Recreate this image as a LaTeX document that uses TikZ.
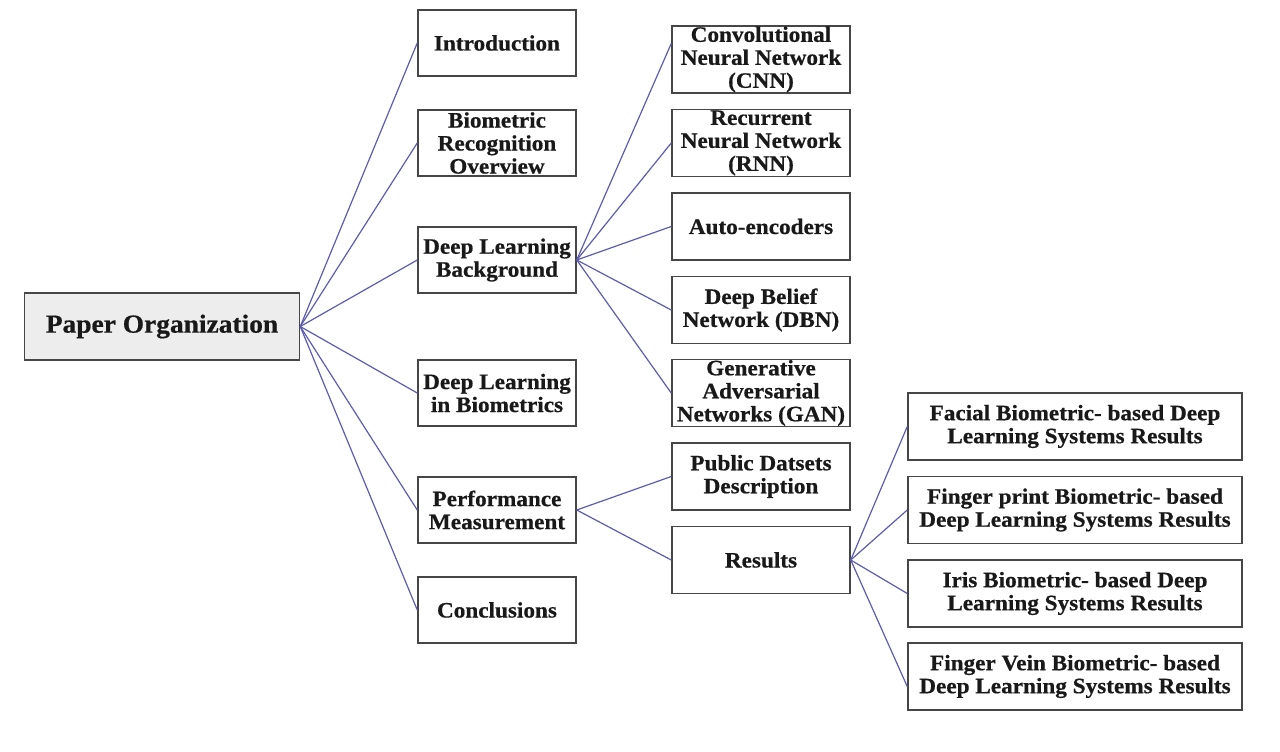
\documentclass[tikz,border=0pt]{standalone}
\usepackage{fontspec}
\setmainfont{Liberation Serif}
\newfontfamily\boxfont[FakeStretch=1.055,FakeBold=0.6]{Liberation Serif}
\usetikzlibrary{calc}
\definecolor{linkc}{RGB}{92,92,178}
\definecolor{boxc}{RGB}{70,70,70}
\tikzset{
  box/.style={draw=boxc, line width=1.5pt, inner sep=0pt, align=center,
    font=\boxfont\bfseries\fontsize{22}{23}\selectfont, text=black!90},
  lbox/.style={box, minimum width=158pt, minimum height=66pt},
  mbox/.style={box, minimum width=178pt, minimum height=67pt},
  rbox/.style={box, minimum width=334pt, minimum height=67pt},
  link/.style={draw=linkc, line width=1.2pt}
}
\begin{document}
\begin{tikzpicture}[x=1pt,y=-1pt]
\useasboundingbox (0,0) rectangle (1280,752);
% root
\node[box, minimum width=275pt, minimum height=67pt, fill=black!7,
  font=\boxfont\bfseries\fontsize{26}{28}\selectfont] (po) at (162,326.5) {Paper Organization};
% left column
\node[lbox] (intro) at (497,43) {Introduction};
\node[lbox] (bio) at (497,143) {Biometric\\Recognition\\Overview};
\node[lbox] (dlb) at (497,260) {Deep Learning\\Background};
\node[lbox] (dlib) at (497,393) {Deep Learning\\in Biometrics};
\node[lbox] (pm) at (497,510) {Performance\\Measurement};
\node[lbox] (conc) at (497,610) {Conclusions};
% middle column
\node[mbox] (cnn) at (761,59.5) {Convolutional\\Neural Network\\(CNN)};
\node[mbox] (rnn) at (761,143) {Recurrent\\Neural Network\\(RNN)};
\node[mbox] (ae) at (761,226.5) {Auto-encoders};
\node[mbox] (dbn) at (761,310) {Deep Belief\\Network (DBN)};
\node[mbox] (gan) at (761,393) {Generative\\Adversarial\\Networks (GAN)};
\node[mbox] (pub) at (761,476.5) {Public Datsets\\Description};
\node[mbox] (res) at (761,560) {Results};
% right column
\node[rbox] (fac) at (1075,426.5) {Facial Biometric- based Deep\\Learning Systems Results};
\node[rbox] (fp) at (1075,510) {Finger print Biometric- based\\Deep Learning Systems Results};
\node[rbox] (iris) at (1075,593.5) {Iris Biometric- based Deep\\Learning Systems Results};
\node[rbox] (vein) at (1075,676.5) {Finger Vein Biometric- based\\Deep Learning Systems Results};
% connectors
\foreach \t in {intro,bio,dlb,dlib,pm,conc}
  \draw[link] (po.east) -- (\t.west);
\draw[link] (dlb.east) -- ($(cnn.west)+(0,-16)$);
\foreach \t in {rnn,ae,dbn,gan}
  \draw[link] (dlb.east) -- (\t.west);
\draw[link] (pm.east) -- (pub.west);
\draw[link] (pm.east) -- (res.west);
\foreach \t in {fac,fp,iris}
  \draw[link] (res.east) -- (\t.west);
\draw[link] (res.east) -- ($(vein.west)+(0,10)$);
\end{tikzpicture}
\end{document}
